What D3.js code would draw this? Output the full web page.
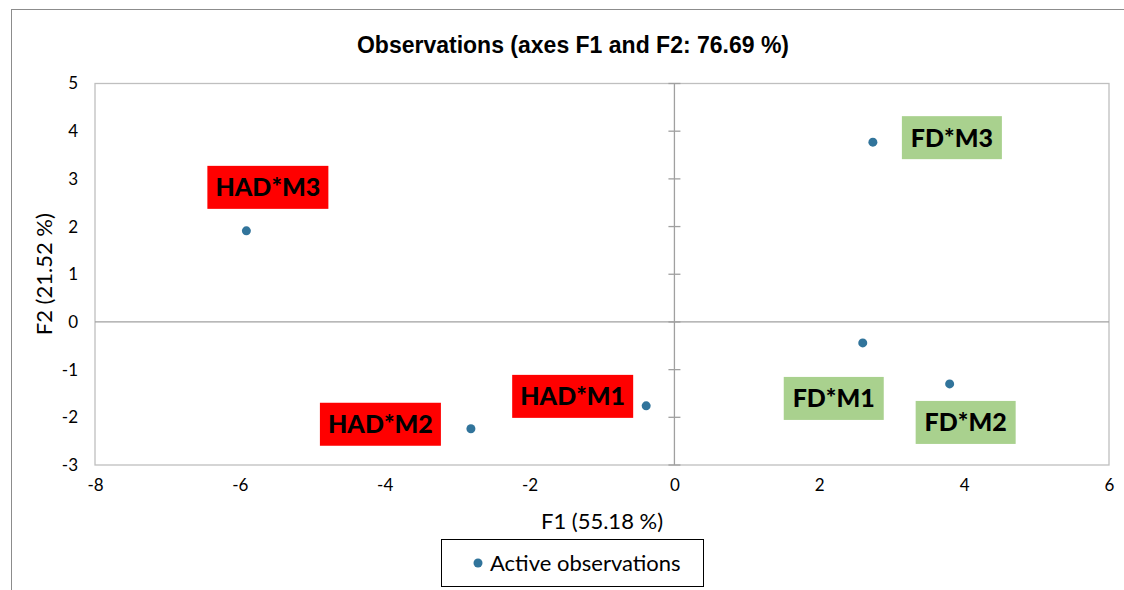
<!DOCTYPE html>
<html><head><meta charset="utf-8">
<script src="https://cdn.jsdelivr.net/npm/d3@7"></script>
<style>body{margin:0;background:#fff}svg{display:block}</style>
</head><body>
<svg id="chart" width="1124" height="590"></svg>
<script>
const names = ["HAD*M3","HAD*M2","HAD*M1","FD*M3","FD*M1","FD*M2"];
const f1 = [-5.91,-2.81,-0.39,2.74,2.60,3.80];
const f2 = [1.91,-2.24,-1.76,3.77,-0.44,-1.30];
const groups = ["HAD","HAD","HAD","FD","FD","FD"];
const xTicks = [-8,-6,-4,-2,0,2,4,6];
const yTicks = [-3,-2,-1,0,1,2,3,4,5];
const titleText = "Observations (axes F1 and F2: 76.69 %)";
const xTitle = "F1 (55.18 %)";
const yTitle = "F2 (21.52 %)";
const legendText = "Active observations";

// layout (pixels)
const labelOffsets = [[21.5,-43.5],[-90.5,-4.5],[-73.5,-9.5],[79,-4.5],[-29,55.5],[16,38.5]];
const boxW = {HAD:121, FD:100};
const boxFill = {HAD:"#ff0000", FD:"#a9d18e"};
const pointColor = "#31749b";

const svg = d3.select("#chart");
const L=95, R=1109, T=83.5, B=465;
const x = d3.scaleLinear().domain([-8,6]).range([L,R]);
const y = d3.scaleLinear().domain([-3,5]).range([B,T]);
const fmt = d => String(d); // hyphen-minus like the reference

// outer border
svg.append("rect").attr("x",11.5).attr("y",9.5).attr("width",1130).attr("height",600)
  .attr("fill","none").attr("stroke","#8c8c8c").attr("stroke-width",1);

// title
svg.append("text").attr("x",573).attr("y",53).attr("text-anchor","middle")
  .attr("font-family","Liberation Sans, Arial, sans-serif").attr("font-weight","bold")
  .attr("font-size",23).attr("fill","#000").text(titleText);

// plot border
svg.append("rect").attr("x",L).attr("y",T).attr("width",R-L).attr("height",B-T)
  .attr("fill","none").attr("stroke","#bfbfbf").attr("stroke-width",1.3);

// zero lines
svg.append("line").attr("x1",L).attr("x2",R).attr("y1",y(0)).attr("y2",y(0))
  .attr("stroke","#a0a0a0").attr("stroke-width",1.3);
svg.append("line").attr("x1",x(0)).attr("x2",x(0)).attr("y1",T).attr("y2",B)
  .attr("stroke","#a0a0a0").attr("stroke-width",1.3);
// ticks on vertical zero axis
svg.append("g").selectAll("line").data(yTicks).join("line")
  .attr("x1",x(0)-6).attr("x2",x(0)+6).attr("y1",d=>y(d)).attr("y2",d=>y(d))
  .attr("stroke","#a0a0a0").attr("stroke-width",1.3);

const font = "Lato, Carlito, Calibri, sans-serif";
const gx = svg.append("g").attr("transform",`translate(0,${B})`)
  .call(d3.axisBottom(x).tickValues(xTicks).tickSize(0).tickPadding(14).tickFormat(fmt));
const gy = svg.append("g").attr("transform",`translate(${L},0)`)
  .call(d3.axisLeft(y).tickValues(yTicks).tickSize(0).tickPadding(17).tickFormat(fmt));
[gx,gy].forEach(g=>{
  g.select(".domain").remove();
  g.selectAll("text").attr("font-family",font).attr("font-size",17).attr("fill","#000");
});

svg.append("text").attr("x",(L+R)/2).attr("y",529).attr("text-anchor","middle")
  .attr("font-family",font).attr("font-size",22).attr("fill","#000").text(xTitle);
svg.append("text").attr("transform",`translate(52,${(T+B)/2}) rotate(-90)`).attr("text-anchor","middle")
  .attr("font-family",font).attr("font-size",22).attr("fill","#000").text(yTitle);

// points
const data = names.map((n,i)=>({n, x:f1[i], y:f2[i], g:groups[i], o:labelOffsets[i]}));
svg.append("g").selectAll("circle").data(data).join("circle")
  .attr("cx",d=>x(d.x)).attr("cy",d=>y(d.y)).attr("r",4.5).attr("fill",pointColor);

// labels
const lg = svg.append("g").selectAll("g").data(data).join("g")
  .attr("transform",d=>`translate(${x(d.x)+d.o[0]},${y(d.y)+d.o[1]})`);
lg.append("rect").attr("x",d=>-boxW[d.g]/2).attr("y",-21.5).attr("width",d=>boxW[d.g]).attr("height",43)
  .attr("fill",d=>boxFill[d.g]);
lg.append("text").attr("text-anchor","middle").attr("dy","0.36em")
  .attr("font-family",font).attr("font-weight","900").attr("font-size",25).attr("fill","#000")
  .text(d=>d.n);

// legend
const leg = svg.append("g");
leg.append("rect").attr("x",441.5).attr("y",539.5).attr("width",262).attr("height",47)
  .attr("fill","#fff").attr("stroke","#000").attr("stroke-width",1);
leg.append("circle").attr("cx",478).attr("cy",563).attr("r",4.5).attr("fill",pointColor);
leg.append("text").attr("x",490).attr("y",563).attr("dy","0.36em")
  .attr("font-family",font).attr("font-size",22).attr("fill","#000").text(legendText);
</script>
</body></html>
